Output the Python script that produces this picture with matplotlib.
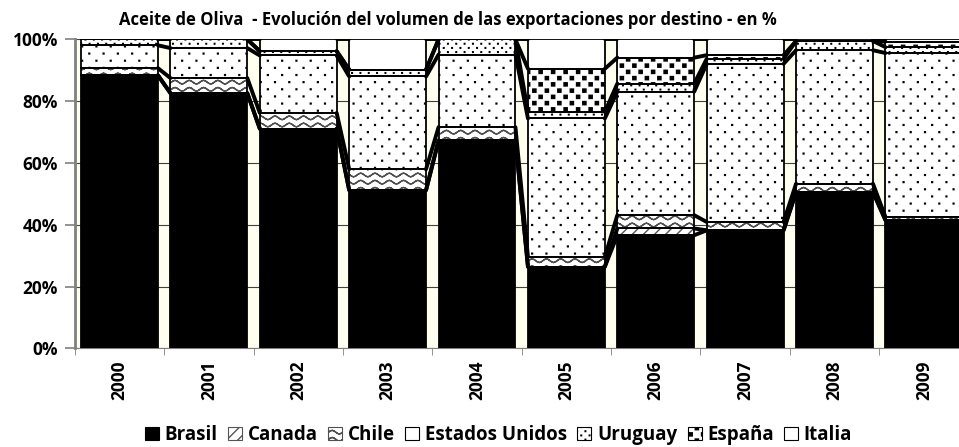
import warnings
import numpy as np
import matplotlib
matplotlib.use("Agg")
import matplotlib.pyplot as plt
import matplotlib.hatch as mhatch
from matplotlib.path import Path
from matplotlib.patches import Patch

warnings.filterwarnings("ignore")

years = ["2000", "2001", "2002", "2003", "2004", "2005", "2006", "2007", "2008", "2009"]
series_names = ["Brasil", "Canada", "Chile", "Estados Unidos", "Uruguay", "España", "Italia"]

brasil = [88.4, 82.6, 71.1, 51.2, 67.3, 26.4, 36.6, 38.2, 50.6, 41.5]
canada = [0, 0, 0, 0, 0, 0, 2.2, 0, 0, 0]
chile = [2.3, 4.9, 5.1, 6.8, 4.3, 3.2, 4.3, 2.7, 2.7, 1.0]
eeuu = [7.4, 9.7, 18.6, 30.0, 23.5, 44.8, 40.0, 51.2, 43.2, 53.1]
uruguay = [1.9, 2.8, 1.4, 2.2, 4.9, 2.1, 2.6, 1.6, 3.0, 1.9]
espana = [0, 0, 0, 0, 0, 14.0, 8.4, 1.2, 0, 1.8]
italia = [0, 0, 3.8, 9.8, 0, 9.5, 5.9, 5.1, 0.5, 0.7]


# --- custom hatch patterns (excel-like fills) ---
class WaveHatch(mhatch.HatchPatternBase):
    def __init__(self, hatch, density):
        self.rows = hatch.count('~') * 14
        self.npts = 57
        self.num_vertices = self.rows * self.npts * 2

    def set_vertices_and_codes(self, vertices, codes):
        x = np.linspace(0, 1, self.npts)
        wave = 0.018 * np.sin(2 * np.pi * 7 * x)
        n = self.npts * 2
        for r in range(self.rows):
            y0 = (r + 0.5) / self.rows
            pts = np.column_stack([x, y0 + wave])
            vertices[r * n:(r + 1) * n] = np.vstack([pts, pts[::-1]])
            codes[r * n:(r + 1) * n] = Path.LINETO
            codes[r * n] = Path.MOVETO


class DotHatch(mhatch.HatchPatternBase):
    char = 'd'
    per = 14
    half = 0.004

    def __init__(self, hatch, density):
        self.rows = hatch.count(self.char) * self.per
        self.cols = self.rows // 2
        self.num_vertices = self.rows * self.cols * 5

    def set_vertices_and_codes(self, vertices, codes):
        s = self.half
        k = 0
        for r in range(self.rows):
            y = (r + 0.5) / self.rows
            shift = 0.25 if r % 2 == 0 else 0.75
            for c in range(self.cols):
                x = (c + shift) / self.cols
                vertices[k:k + 5] = [(x - s, y - s), (x + s, y - s), (x + s, y + s),
                                     (x - s, y + s), (x - s, y - s)]
                codes[k:k + 5] = [Path.MOVETO, Path.LINETO, Path.LINETO,
                                  Path.LINETO, Path.CLOSEPOLY]
                k += 5


class FineDotHatch(DotHatch):
    char = 'p'
    per = 24
    half = 0.003


class BlockHatch(DotHatch):
    char = 'q'
    per = 16
    half = 0.016


mhatch._hatch_types.extend([WaveHatch, DotHatch, FineDotHatch, BlockHatch])

plt.rcParams['font.family'] = ['Open Sans', 'DejaVu Sans']
plt.rcParams['font.weight'] = 'bold'
plt.rcParams['hatch.linewidth'] = 1.0

values = [brasil, canada, chile, eeuu, uruguay, espana, italia]
fills = ['black', 'white', 'white', 'white', 'white', 'white', 'white']
hatches = [None, '///', '~', 'd', 'p', 'q', None]
legend_hatches = [None, '///', '~', None, 'p', 'q', None]
hatch_cols = ['black', '#555555', '#505050', 'black', 'black', 'black', 'black']

fig = plt.figure(figsize=(9.59, 4.47), dpi=100)
ax = fig.add_axes([0.078, 0.2208, 0.932, 0.691])
ax.set_facecolor('#fffff0')

x = np.arange(len(years))
w = 0.86
bottom = np.zeros(len(years))
tops = []
for vals, fc, h, hc in zip(values, fills, hatches, hatch_cols):
    vals = np.array(vals, dtype=float)
    ax.bar(x, vals, w, bottom=bottom, color=fc, edgecolor=hc, hatch=h,
           linewidth=0, zorder=2)
    ax.bar(x, vals, w, bottom=bottom, fill=False, edgecolor='black',
           linewidth=1.3, zorder=3)
    bottom = bottom + vals
    tops.append(bottom.copy())

# series lines between bars
for top in tops:
    for i in range(len(years) - 1):
        ax.plot([x[i] + w / 2, x[i + 1] - w / 2], [top[i], top[i + 1]],
                color='black', lw=2.8, solid_capstyle='round', zorder=4)

ax.set_xlim(-0.5, 9.5)
ax.set_ylim(0, 100)
ax.set_yticks([0, 20, 40, 60, 80, 100])
ax.set_yticklabels(['0%', '20%', '40%', '60%', '80%', '100%'],
                   fontsize=12.5, fontweight='bold')
ax.yaxis.grid(True, color='#404040', lw=0.8)
ax.set_axisbelow(True)
ax.set_xticks(x)
ax.set_xticklabels(years, rotation=90, fontsize=12.5, fontweight='bold')
ax.set_xticks(np.arange(-0.5, 10, 1), minor=True)
ax.tick_params(axis='x', which='major', length=0, pad=9)
ax.tick_params(axis='x', which='minor', length=5, color='#808080')
ax.tick_params(axis='y', length=7, color='#808080', width=1.2, pad=5)
for side in ['top', 'right']:
    ax.spines[side].set_visible(False)
ax.spines['left'].set_color('#808080')
ax.spines['left'].set_linewidth(2)
ax.spines['bottom'].set_color('#808080')

fig.text(0.467, 0.955, 'Aceite de Oliva  - Evolución del volumen de las exportaciones por destino - en %',
         ha='center', va='center', fontsize=12, fontweight='bold')

handles = [Patch(facecolor=fc, edgecolor=hc, hatch=h, linewidth=0.8)
           for fc, h, hc in zip(fills, legend_hatches, hatch_cols)]
fig.legend(handles, series_names, loc='center', bbox_to_anchor=(0.52, 0.027),
           ncol=7, frameon=False, handlelength=0.75, handleheight=0.75,
           handletextpad=0.3, columnspacing=0.55,
           prop={'size': 13.5, 'weight': 'bold'})

fig.savefig('out.png', dpi=100)
